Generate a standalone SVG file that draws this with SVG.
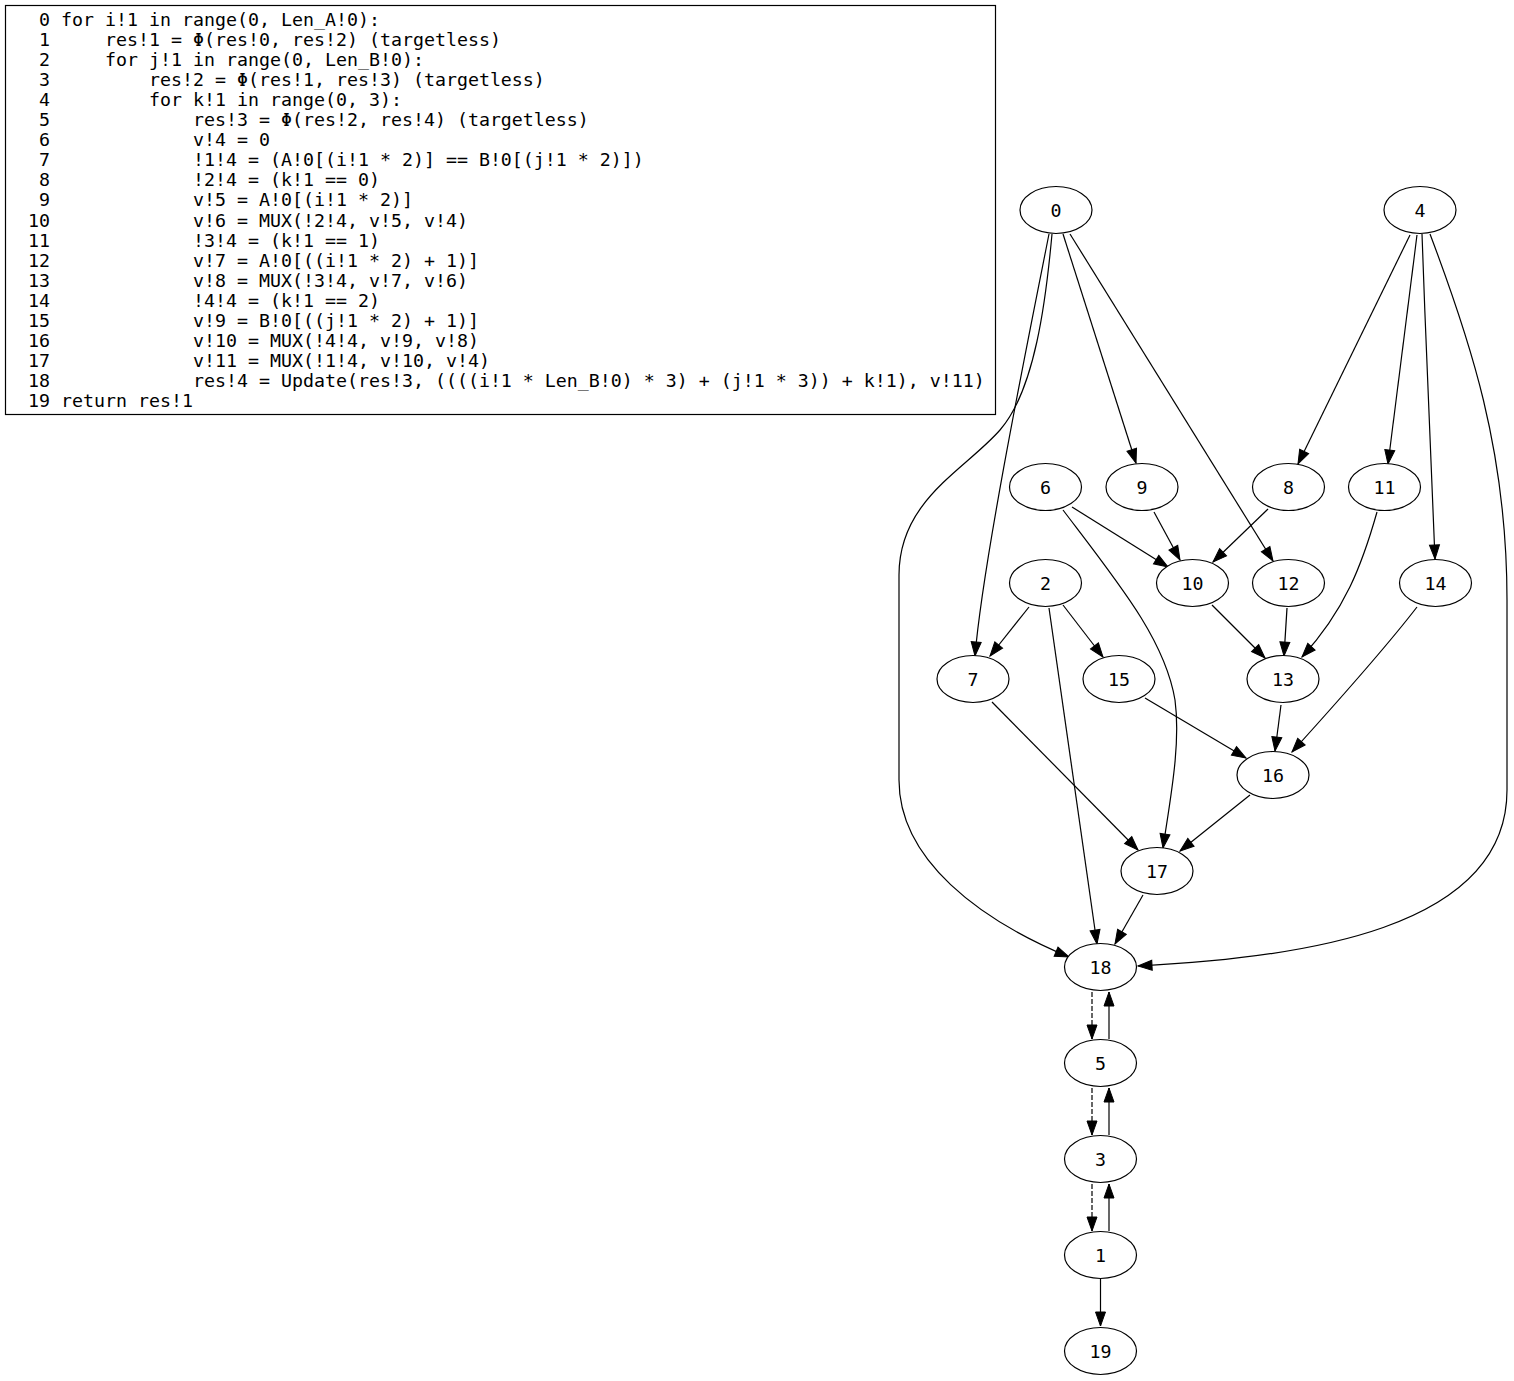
<svg xmlns="http://www.w3.org/2000/svg" width="1514" height="1381" viewBox="0 0 1514 1381">
<style>
.code{font-family:"DejaVu Sans Mono","Liberation Mono",monospace;font-size:18.27px;fill:#000;white-space:pre}
.num{text-anchor:end}
.node ellipse{fill:#fff;stroke:#000;stroke-width:1.2}
.node text{font-family:"DejaVu Sans Mono","Liberation Mono",monospace;font-size:18.27px;text-anchor:middle;fill:#000}
.edge{fill:none;stroke:#000;stroke-width:1.2;marker-end:url(#ah)}
.dash{stroke-dasharray:5,2}
</style>
<defs>
<marker id="ah" markerUnits="userSpaceOnUse" markerWidth="16" markerHeight="12" refX="14" refY="5" orient="auto" overflow="visible">
<path d="M0,0 L14,5 L0,10 z" fill="#000" stroke="#000" stroke-width="1"/>
</marker>
</defs>
<rect width="1514" height="1381" fill="#fff"/>
<g id="code">
<rect x="5.5" y="5.5" width="990" height="409" fill="#fff" stroke="#000" stroke-width="1.2"/>
<g class="code">
<text class="num" x="50" y="26">0</text>
<text class="num" x="50" y="46.05">1</text>
<text class="num" x="50" y="66.1">2</text>
<text class="num" x="50" y="86.15">3</text>
<text class="num" x="50" y="106.2">4</text>
<text class="num" x="50" y="126.25">5</text>
<text class="num" x="50" y="146.3">6</text>
<text class="num" x="50" y="166.35">7</text>
<text class="num" x="50" y="186.4">8</text>
<text class="num" x="50" y="206.45">9</text>
<text class="num" x="50" y="226.5">10</text>
<text class="num" x="50" y="246.55">11</text>
<text class="num" x="50" y="266.6">12</text>
<text class="num" x="50" y="286.65">13</text>
<text class="num" x="50" y="306.7">14</text>
<text class="num" x="50" y="326.75">15</text>
<text class="num" x="50" y="346.8">16</text>
<text class="num" x="50" y="366.85">17</text>
<text class="num" x="50" y="386.9">18</text>
<text class="num" x="50" y="406.95">19</text>
<text x="61" y="26" xml:space="preserve">for i!1 in range(0, Len_A!0):</text>
<text x="61" y="46.05" xml:space="preserve">    res!1 = Φ(res!0, res!2) (targetless)</text>
<text x="61" y="66.1" xml:space="preserve">    for j!1 in range(0, Len_B!0):</text>
<text x="61" y="86.15" xml:space="preserve">        res!2 = Φ(res!1, res!3) (targetless)</text>
<text x="61" y="106.2" xml:space="preserve">        for k!1 in range(0, 3):</text>
<text x="61" y="126.25" xml:space="preserve">            res!3 = Φ(res!2, res!4) (targetless)</text>
<text x="61" y="146.3" xml:space="preserve">            v!4 = 0</text>
<text x="61" y="166.35" xml:space="preserve">            !1!4 = (A!0[(i!1 * 2)] == B!0[(j!1 * 2)])</text>
<text x="61" y="186.4" xml:space="preserve">            !2!4 = (k!1 == 0)</text>
<text x="61" y="206.45" xml:space="preserve">            v!5 = A!0[(i!1 * 2)]</text>
<text x="61" y="226.5" xml:space="preserve">            v!6 = MUX(!2!4, v!5, v!4)</text>
<text x="61" y="246.55" xml:space="preserve">            !3!4 = (k!1 == 1)</text>
<text x="61" y="266.6" xml:space="preserve">            v!7 = A!0[((i!1 * 2) + 1)]</text>
<text x="61" y="286.65" xml:space="preserve">            v!8 = MUX(!3!4, v!7, v!6)</text>
<text x="61" y="306.7" xml:space="preserve">            !4!4 = (k!1 == 2)</text>
<text x="61" y="326.75" xml:space="preserve">            v!9 = B!0[((j!1 * 2) + 1)]</text>
<text x="61" y="346.8" xml:space="preserve">            v!10 = MUX(!4!4, v!9, v!8)</text>
<text x="61" y="366.85" xml:space="preserve">            v!11 = MUX(!1!4, v!10, v!4)</text>
<text x="61" y="386.9" xml:space="preserve">            res!4 = Update(res!3, ((((i!1 * Len_B!0) * 3) + (j!1 * 3)) + k!1), v!11)</text>
<text x="61" y="406.95" xml:space="preserve">return res!1</text>
</g>
</g>
<g id="edges">
<path class="edge" d="M1063,234 L1136,463"/>
<path class="edge" d="M1070,234 L1273,561"/>
<path class="edge" d="M1049,234 C1030,330 983,560 975,656"/>
<path class="edge" d="M1052,234 C1046,300 1035,390 1000,430 C965,470 899,500 899,575 L899,780 C899,860 980,920 1069,957"/>
<path class="edge" d="M1410,235 L1298,464"/>
<path class="edge" d="M1417,235 L1388,464"/>
<path class="edge" d="M1422,234 C1426,350 1432,480 1435,559"/>
<path class="edge" d="M1430,234 C1470,340 1507,450 1507,600 L1507,790 C1507,930 1300,958 1138,966"/>
<path class="edge" d="M1072,507 L1168,567"/>
<path class="edge" d="M1063,510 C1120,585 1165,640 1175,700 C1181,745 1170,800 1163,848"/>
<path class="edge" d="M1154,512 L1180,560"/>
<path class="edge" d="M1268,509 L1213,562"/>
<path class="edge" d="M1212,605 L1265,658"/>
<path class="edge" d="M1287,608 L1284,656"/>
<path class="edge" d="M1377,512 C1362,565 1345,610 1302,657"/>
<path class="edge" d="M1417,607 C1380,655 1330,710 1292,752"/>
<path class="edge" d="M1281,705 L1275,751"/>
<path class="edge" d="M1145,698 L1246,758"/>
<path class="edge" d="M1029,607 L990,656"/>
<path class="edge" d="M1063,605 L1103,657"/>
<path class="edge" d="M1049,608 L1097,944"/>
<path class="edge" d="M992,702 L1138,850"/>
<path class="edge" d="M1250,795 L1180,851"/>
<path class="edge" d="M1143,895 L1115,944"/>
<path class="edge dash" d="M1092,992 L1092,1039"/>
<path class="edge" d="M1109,1039 L1109,992"/>
<path class="edge dash" d="M1092,1088 L1092,1135"/>
<path class="edge" d="M1109,1135 L1109,1088"/>
<path class="edge dash" d="M1092,1184 L1092,1231"/>
<path class="edge" d="M1109,1231 L1109,1184"/>
<path class="edge" d="M1100.5,1279 L1100.5,1326"/>
</g>
<g id="n0" class="node"><ellipse cx="1056" cy="210" rx="36" ry="23.5"/><text x="1056" y="216.5">0</text></g>
<g id="n4" class="node"><ellipse cx="1420" cy="210" rx="36" ry="23.5"/><text x="1420" y="216.5">4</text></g>
<g id="n6" class="node"><ellipse cx="1045.5" cy="487" rx="36" ry="23.5"/><text x="1045.5" y="493.5">6</text></g>
<g id="n9" class="node"><ellipse cx="1142" cy="487" rx="36" ry="23.5"/><text x="1142" y="493.5">9</text></g>
<g id="n8" class="node"><ellipse cx="1288.5" cy="487" rx="36" ry="23.5"/><text x="1288.5" y="493.5">8</text></g>
<g id="n11" class="node"><ellipse cx="1384.5" cy="487" rx="36" ry="23.5"/><text x="1384.5" y="493.5">11</text></g>
<g id="n2" class="node"><ellipse cx="1045.5" cy="583" rx="36" ry="23.5"/><text x="1045.5" y="589.5">2</text></g>
<g id="n10" class="node"><ellipse cx="1192.5" cy="583" rx="36" ry="23.5"/><text x="1192.5" y="589.5">10</text></g>
<g id="n12" class="node"><ellipse cx="1288.5" cy="583" rx="36" ry="23.5"/><text x="1288.5" y="589.5">12</text></g>
<g id="n14" class="node"><ellipse cx="1435.5" cy="583" rx="36" ry="23.5"/><text x="1435.5" y="589.5">14</text></g>
<g id="n7" class="node"><ellipse cx="973" cy="679" rx="36" ry="23.5"/><text x="973" y="685.5">7</text></g>
<g id="n15" class="node"><ellipse cx="1119" cy="679" rx="36" ry="23.5"/><text x="1119" y="685.5">15</text></g>
<g id="n13" class="node"><ellipse cx="1283" cy="679" rx="36" ry="23.5"/><text x="1283" y="685.5">13</text></g>
<g id="n16" class="node"><ellipse cx="1273" cy="775" rx="36" ry="23.5"/><text x="1273" y="781.5">16</text></g>
<g id="n17" class="node"><ellipse cx="1157" cy="871" rx="36" ry="23.5"/><text x="1157" y="877.5">17</text></g>
<g id="n18" class="node"><ellipse cx="1100.5" cy="967" rx="36" ry="23.5"/><text x="1100.5" y="973.5">18</text></g>
<g id="n5" class="node"><ellipse cx="1100.5" cy="1063" rx="36" ry="23.5"/><text x="1100.5" y="1069.5">5</text></g>
<g id="n3" class="node"><ellipse cx="1100.5" cy="1159" rx="36" ry="23.5"/><text x="1100.5" y="1165.5">3</text></g>
<g id="n1" class="node"><ellipse cx="1100.5" cy="1255" rx="36" ry="23.5"/><text x="1100.5" y="1261.5">1</text></g>
<g id="n19" class="node"><ellipse cx="1100.5" cy="1351" rx="36" ry="23.5"/><text x="1100.5" y="1357.5">19</text></g>
</svg>
